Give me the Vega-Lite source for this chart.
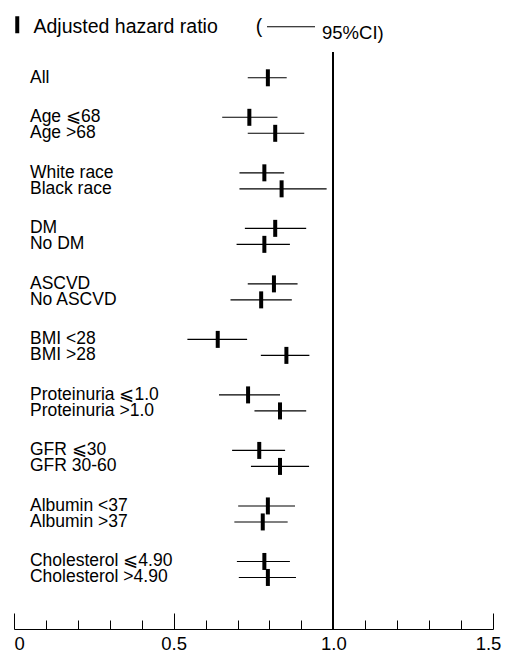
{
  "$schema": "https://vega.github.io/schema/vega-lite/v6.json",
  "width": 479,
  "height": 577,
  "autosize": {"type": "none"},
  "padding": {"left": 14, "top": 52, "right": 13, "bottom": 30},
  "background": "white",
  "config": {
    "view": {"stroke": null},
    "font": "Liberation Sans",
    "axisX": {
      "title": null,
      "grid": false,
      "domainColor": "black", "domainWidth": 1,
      "tickColor": "black", "tickWidth": 1,
      "labelFont": "Liberation Sans", "labelFontSize": 18.5, "labelColor": "black",
      "labelOverlap": false, "labelBound": false, "labelFlush": false
    }
  },
  "data": {
    "values": [
      {"group": "All", "sub": 2, "label": "All", "hr": 0.795, "lo": 0.732, "hi": 0.854},
      {"group": "Age", "sub": 1, "label": "Age ⩽68", "hr": 0.737, "lo": 0.652, "hi": 0.825},
      {"group": "Age", "sub": 2, "label": "Age >68", "hr": 0.818, "lo": 0.732, "hi": 0.909},
      {"group": "Race", "sub": 1, "label": "White race", "hr": 0.784, "lo": 0.706, "hi": 0.846},
      {"group": "Race", "sub": 2, "label": "Black race", "hr": 0.838, "lo": 0.706, "hi": 0.979},
      {"group": "DM", "sub": 1, "label": "DM", "hr": 0.818, "lo": 0.723, "hi": 0.915},
      {"group": "DM", "sub": 2, "label": "No DM", "hr": 0.784, "lo": 0.697, "hi": 0.864},
      {"group": "ASCVD", "sub": 1, "label": "ASCVD", "hr": 0.814, "lo": 0.732, "hi": 0.888},
      {"group": "ASCVD", "sub": 2, "label": "No ASCVD", "hr": 0.774, "lo": 0.678, "hi": 0.870},
      {"group": "BMI", "sub": 1, "label": "BMI <28", "hr": 0.638, "lo": 0.543, "hi": 0.730},
      {"group": "BMI", "sub": 2, "label": "BMI >28", "hr": 0.853, "lo": 0.773, "hi": 0.925},
      {"group": "Proteinuria", "sub": 1, "label": "Proteinuria ⩽1.0", "hr": 0.733, "lo": 0.642, "hi": 0.833},
      {"group": "Proteinuria", "sub": 2, "label": "Proteinuria >1.0", "hr": 0.833, "lo": 0.753, "hi": 0.915},
      {"group": "GFR", "sub": 1, "label": "GFR ⩽30", "hr": 0.768, "lo": 0.683, "hi": 0.849},
      {"group": "GFR", "sub": 2, "label": "GFR 30-60", "hr": 0.833, "lo": 0.742, "hi": 0.924},
      {"group": "Albumin", "sub": 1, "label": "Albumin <37", "hr": 0.795, "lo": 0.702, "hi": 0.880},
      {"group": "Albumin", "sub": 2, "label": "Albumin >37", "hr": 0.779, "lo": 0.690, "hi": 0.857},
      {"group": "Cholesterol", "sub": 1, "label": "Cholesterol ⩽4.90", "hr": 0.784, "lo": 0.698, "hi": 0.864},
      {"group": "Cholesterol", "sub": 2, "label": "Cholesterol >4.90", "hr": 0.795, "lo": 0.704, "hi": 0.883}
    ]
  },
  "layer": [
    {
      "mark": {"type": "rule", "strokeWidth": 1.1},
      "encoding": {
        "x": {
          "field": "lo", "type": "quantitative",
          "scale": {"domain": [0, 1.5], "nice": false, "zero": false},
          "axis": {
            "values": [0, 0.1, 0.2, 0.3, 0.4, 0.5, 0.6, 0.7, 0.8, 0.9, 1.0, 1.1, 1.2, 1.3, 1.4, 1.5],
            "tickSize": {"condition": {"test": "abs(datum.value*2 - round(datum.value*2)) < 0.001", "value": -16}, "value": -9},
            "labelPadding": {"condition": {"test": "abs(datum.value*2 - round(datum.value*2)) < 0.001", "value": 21}, "value": 14},
            "labelExpr": "datum.value == 0 ? '0' : (abs(datum.value*2 - round(datum.value*2)) < 0.001 ? format(datum.value, '.1f') : '')",
            "labelAlign": {"condition": {"test": "datum.value == 0", "value": "left"}, "value": "center"},
            "labelOffset": {"condition": {"test": "datum.value == 1.5", "value": -5}, "value": 0}
          }
        },
        "x2": {"field": "hi"},
        "y": {
          "field": "group", "type": "nominal",
          "scale": {
            "domain": ["All", "Age", "Race", "DM", "ASCVD", "BMI", "Proteinuria", "GFR", "Albumin", "Cholesterol"],
            "paddingInner": 0.5, "paddingOuter": 0.4465, "align": 0.079
          },
          "axis": null
        },
        "yOffset": {"field": "sub", "type": "ordinal", "scale": {"domain": [1, 2], "paddingInner": 0.5, "paddingOuter": 0.1175}},
        "color": {
          "datum": "95%CI",
          "scale": {"range": ["black"]},
          "legend": {
            "orient": "none", "legendX": 252.5, "legendY": -43.75, "padding": 0,
            "title": null,
            "symbolType": "M-1,-0.25H1", "symbolSize": 2304, "symbolStrokeWidth": 1,
            "symbolStrokeColor": "black", "symbolFillColor": "transparent",
            "labelExpr": "datum.label + ')'", "labelFont": "Liberation Sans", "labelFontSize": 18.5,
            "labelColor": "black", "labelOffset": 6.5, "labelLimit": 0
          }
        }
      }
    },
    {
      "mark": {"type": "tick", "thickness": 4, "size": 17, "opacity": 1},
      "encoding": {
        "x": {
          "field": "hr", "type": "quantitative",
          "axis": {
            "values": [0, 0.1, 0.2, 0.3, 0.4, 0.5, 0.6, 0.7, 0.8, 0.9, 1.0, 1.1, 1.2, 1.3, 1.4, 1.5],
            "tickSize": {"condition": {"test": "abs(datum.value*2 - round(datum.value*2)) < 0.001", "value": -16}, "value": -9},
            "labelPadding": {"condition": {"test": "abs(datum.value*2 - round(datum.value*2)) < 0.001", "value": 21}, "value": 14},
            "labelExpr": "datum.value == 0 ? '0' : (abs(datum.value*2 - round(datum.value*2)) < 0.001 ? format(datum.value, '.1f') : '')",
            "labelAlign": {"condition": {"test": "datum.value == 0", "value": "left"}, "value": "center"},
            "labelOffset": {"condition": {"test": "datum.value == 1.5", "value": -5}, "value": 0}
          }
        },
        "y": {"field": "group", "type": "nominal", "axis": null},
        "yOffset": {"field": "sub", "type": "ordinal"},
        "color": {
          "datum": "Adjusted hazard ratio",
          "scale": {"range": ["black"]},
          "legend": {
            "orient": "none", "legendX": -6.5, "legendY": -35, "padding": 0,
            "title": null,
            "symbolType": "M-0.235,-1.235H0.235V0.765H-0.235Z", "symbolSize": 289,
            "symbolFillColor": "black", "symbolStrokeWidth": 0, "symbolOpacity": 1,
            "labelExpr": "datum.label + '\u00a0\u00a0\u00a0\u00a0\u00a0\u00a0\u00a0('",
            "labelFont": "Liberation Sans", "labelFontSize": 19.5, "labelColor": "black",
            "labelOffset": 6.5, "labelLimit": 0
          }
        }
      }
    },
    {
      "mark": {"type": "rule", "color": "black", "strokeWidth": 1.3},
      "encoding": {
        "x": {
          "datum": 1,
          "axis": {
            "values": [0, 0.1, 0.2, 0.3, 0.4, 0.5, 0.6, 0.7, 0.8, 0.9, 1.0, 1.1, 1.2, 1.3, 1.4, 1.5],
            "tickSize": {"condition": {"test": "abs(datum.value*2 - round(datum.value*2)) < 0.001", "value": -16}, "value": -9},
            "labelPadding": {"condition": {"test": "abs(datum.value*2 - round(datum.value*2)) < 0.001", "value": 21}, "value": 14},
            "labelExpr": "datum.value == 0 ? '0' : (abs(datum.value*2 - round(datum.value*2)) < 0.001 ? format(datum.value, '.1f') : '')",
            "labelAlign": {"condition": {"test": "datum.value == 0", "value": "left"}, "value": "center"},
            "labelOffset": {"condition": {"test": "datum.value == 1.5", "value": -5}, "value": 0}
          }
        }
      }
    },
    {
      "mark": {"type": "text", "align": "left", "baseline": "middle", "font": "Liberation Sans", "fontSize": 17.5, "color": "black"},
      "encoding": {
        "x": {
          "datum": 0.05,
          "axis": {
            "values": [0, 0.1, 0.2, 0.3, 0.4, 0.5, 0.6, 0.7, 0.8, 0.9, 1.0, 1.1, 1.2, 1.3, 1.4, 1.5],
            "tickSize": {"condition": {"test": "abs(datum.value*2 - round(datum.value*2)) < 0.001", "value": -16}, "value": -9},
            "labelPadding": {"condition": {"test": "abs(datum.value*2 - round(datum.value*2)) < 0.001", "value": 21}, "value": 14},
            "labelExpr": "datum.value == 0 ? '0' : (abs(datum.value*2 - round(datum.value*2)) < 0.001 ? format(datum.value, '.1f') : '')",
            "labelAlign": {"condition": {"test": "datum.value == 0", "value": "left"}, "value": "center"},
            "labelOffset": {"condition": {"test": "datum.value == 1.5", "value": -5}, "value": 0}
          }
        },
        "y": {"field": "group", "type": "nominal", "axis": null},
        "yOffset": {"field": "sub", "type": "ordinal"},
        "text": {"field": "label"}
      }
    }
  ],
  "resolve": {"scale": {"color": "independent"}}
}
